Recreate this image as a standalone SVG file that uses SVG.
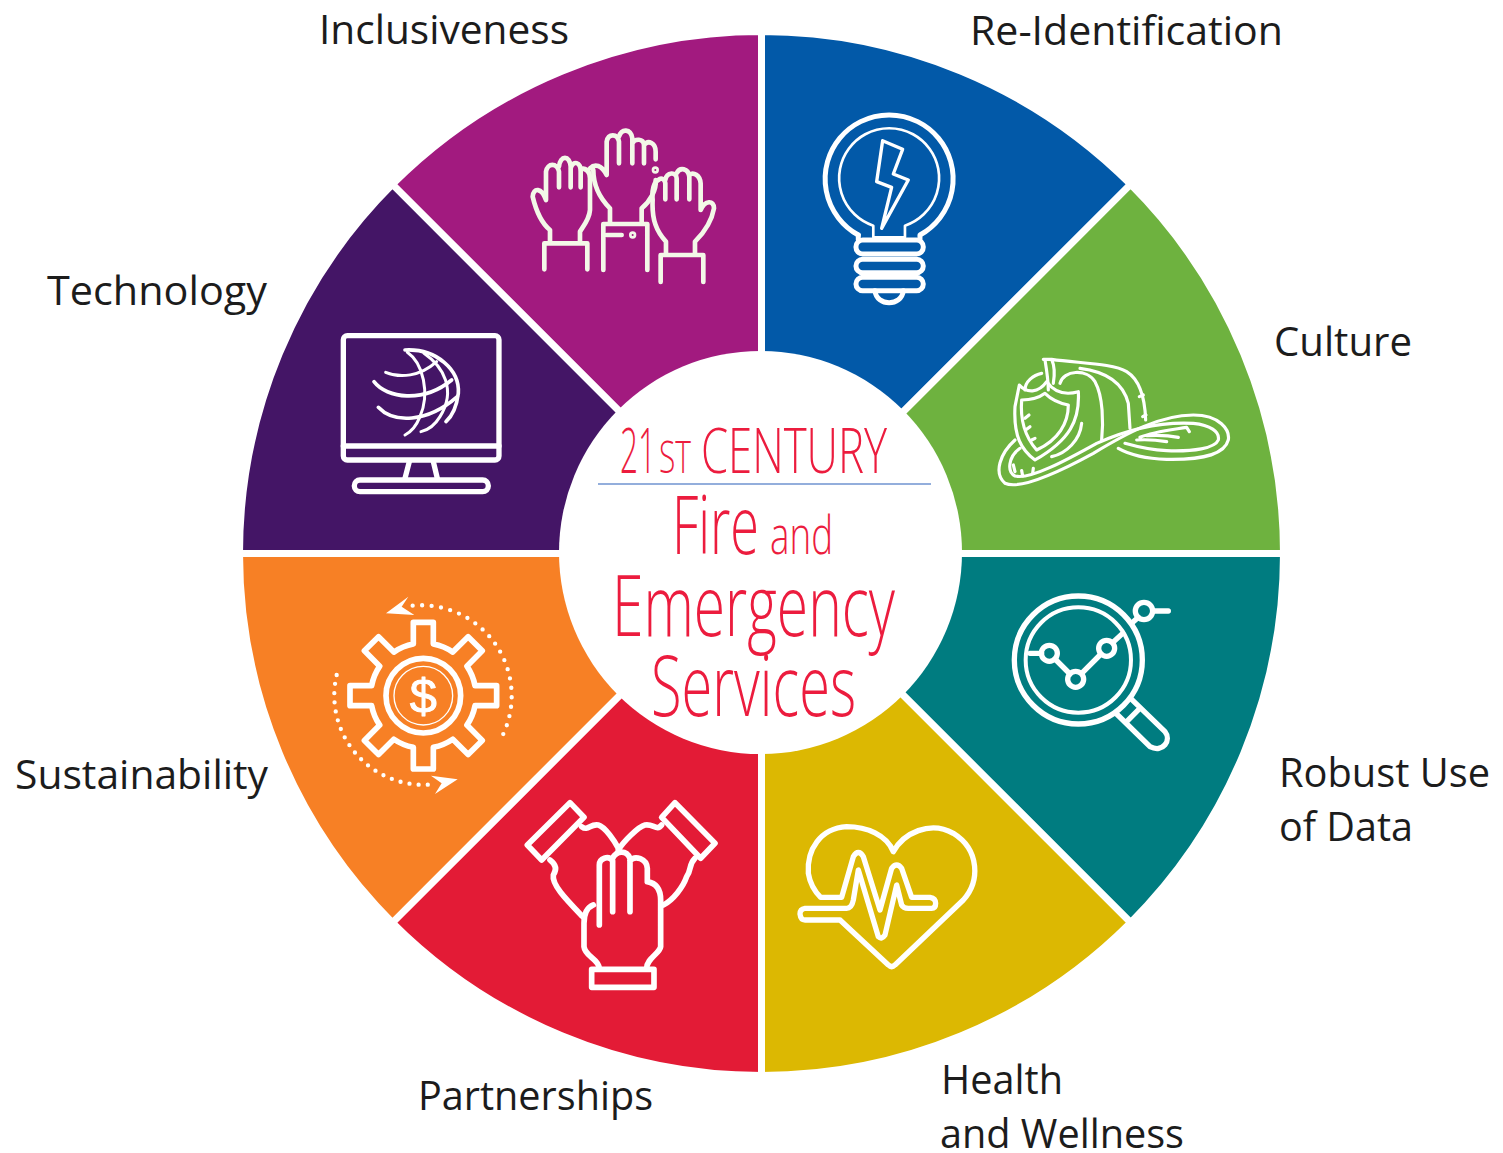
<svg xmlns="http://www.w3.org/2000/svg" width="1503" height="1153" viewBox="0 0 1503 1153">
<style>
.w{stroke:#fff;stroke-width:7}
.i{fill:none;stroke:#fff;stroke-linecap:round;stroke-linejoin:round;stroke-width:16}
.t{stroke-width:8}
.l{font-family:"Open Sans","Noto Sans",sans-serif;font-size:41px;fill:#1c1c1c}
.c{font-family:"Open Sans","Noto Sans",sans-serif;font-weight:300;fill:#EC1C3E}
</style>
<rect width="1503" height="1153" fill="#fff"/>
<g id="connectors"/>

<g id="inclusiveness">
<path class="w" fill="#A21A7F" d="M761.5 553.5L392.4 184.4A522 522 0 0 1 761.5 31.5Z"/>
<g class="i" style="stroke:#F3F8E8;stroke-width:14" transform="translate(510 100) scale(.3333)">
<path d="M103 508V430H232V508M120 425V390C95 370 80 340 68 290C70 262 95 262 108 300V215C112 188 142 188 147 215V262M147 200C150 165 180 165 182 200V262M182 205C190 180 212 185 212 215V262M212 205C225 205 240 210 240 235V330C238 360 215 385 210 395V425"/>
<path d="M240 205C255 190 275 195 290 225V125C295 100 322 100 327 125V190M327 110C335 85 362 85 367 115V190M367 130C375 115 400 115 402 135V190M402 135C415 118 437 130 437 155V178M437 240C440 270 420 305 395 325V365M250 210C250 260 270 295 300 325V368"/>
<path d="M280 510V372H412V510M290 405H335"/>
<circle cx="368" cy="405" r="4"/><circle cx="436" cy="210" r="4"/>
<path d="M452 546V465H580V546M468 460V425C440 395 425 360 428 300C425 270 432 245 445 240C455 230 465 240 466 250V298M466 240C470 215 500 215 500 235V298M500 220C510 200 535 205 538 230V298M538 225C550 215 570 225 572 250V330C585 300 612 300 612 325C605 365 585 395 555 425V460"/>
</g>
</g>

<g id="re-identification">
<path class="w" fill="#0259A8" d="M761.5 553.5V31.5A522 522 0 0 1 1130.6 184.4Z"/>
<g class="i" style="stroke-width:15" transform="translate(510 100) scale(.3333)">
<path d="M1045 405A192 192 0 1 1 1230 405V418"/><path d="M1045 405V418"/>
<path class="t" d="M1090 377A150 150 0 1 1 1185 377V412H1090Z"/>
<path class="t" style="stroke-width:10" d="M1118 122L1178 148L1150 222L1195 240L1115 385L1145 262L1100 245Z"/>
<rect x="1038" y="420" width="202" height="42" rx="20"/>
<rect x="1038" y="478" width="202" height="40" rx="20"/>
<rect x="1038" y="532" width="202" height="40" rx="20"/>
<path d="M1095 572C1100 620 1175 620 1180 572"/>
</g>
</g>

<g id="culture">
<path class="w" fill="#6EB23F" d="M761.5 553.5L1130.6 184.4A522 522 0 0 1 1283.5 553.5Z"/>
<g class="i" transform="translate(980 340) scale(.3333)" style="stroke-width:9.5">
<path d="M105 300C60 340 40 400 75 430C120 450 230 400 340 340C440 280 540 225 640 225C720 225 750 270 745 300C735 340 680 360 560 358C500 356 450 345 415 325"/>
<path d="M120 325C85 350 80 395 105 408C150 420 260 360 350 310C450 265 550 245 640 250C690 255 720 275 715 300C705 325 640 335 560 332C510 330 470 320 435 310"/>
<path d="M118 135C140 160 175 160 200 125C225 160 260 165 295 155C300 240 270 300 165 360C125 330 100 290 105 200Z"/>
<path d="M125 180C150 180 175 175 195 160C215 180 240 190 265 195C265 250 235 300 170 330C135 290 120 240 125 180Z"/>
<path d="M185 100C160 105 135 125 135 150M195 60C200 90 205 120 205 150M220 130C225 100 225 80 215 58L190 58M215 58C300 70 400 70 440 95C480 120 495 180 497 240"/>
<path d="M240 130C250 90 320 85 345 125C370 170 370 250 365 300M300 85C380 95 430 130 445 190L450 265M478 170L490 165M488 230L498 225"/>
<path d="M305 250C300 300 260 340 215 350M135 235L147 225M140 268L150 260M155 300L165 295"/>
<path d="M100 375L105 395M125 392L128 408M160 385L158 400M628 275L620 262C570 270 520 275 480 292M595 292C560 285 530 285 500 287M560 305C530 300 500 298 470 300"/>
</g>
</g>

<g id="robust-use-of-data">
<path class="w" fill="#007C80" d="M761.5 553.5H1283.5A522 522 0 0 1 1130.6 922.6Z"/>
<g class="i" transform="translate(1000 590) scale(.3333)">
<circle cx="235" cy="210" r="192"/>
<circle cx="235" cy="210" r="158" style="stroke-width:12"/>
<circle cx="148" cy="190" r="24"/><circle cx="227" cy="268" r="24"/><circle cx="320" cy="175" r="24"/><circle cx="432" cy="63" r="26"/>
<path d="M90 190H125M165 207L210 252M245 250L303 192M338 158L368 130M395 100L415 82M458 63H505"/>
<path d="M395 328L495 425C515 450 490 490 450 470L350 372M415 360L380 395"/>
</g>
</g>

<g id="health-and-wellness">
<path class="w" fill="#DCB802" d="M761.5 553.5L1130.6 922.6A522 522 0 0 1 761.5 1075.5Z"/>
<g class="i" transform="translate(790 810) scale(.3333)">
<path d="M150 330L295 465Q305 475 315 465L520 270C570 215 570 120 490 70C420 30 340 70 310 125C290 75 230 50 170 50C90 55 50 120 55 190C60 220 75 245 92 262H155L190 140Q205 115 220 140L270 300L305 175Q320 155 335 175L365 262H420Q437 265 437 280Q437 295 425 295H355Q340 295 335 285L320 225L285 375Q275 390 265 380L205 180L190 270Q185 295 170 295H45Q30 297 30 312Q32 330 45 330H150"/>
</g>
</g>

<g id="partnerships">
<path class="w" fill="#E31B36" d="M761.5 553.5V1075.5A522 522 0 0 1 392.4 922.6Z"/>
<g class="i" style="stroke-width:17" transform="translate(510 790) scale(.3333)">
<rect x="245" y="538" width="187" height="54"/>
<path d="M268 405V225C268 205 295 195 308 212V365M308 205C320 180 350 180 360 205V365M360 212C375 195 410 205 412 235V275M412 275C440 280 452 300 452 330V470C450 490 410 505 410 535M250 345C225 355 222 380 222 400V470C225 500 265 505 268 535"/>
<path d="M180 38L222 82L95 210L52 165Z"/>
<path d="M215 110C235 125 240 100 265 105C285 110 315 155 325 175M120 210C140 225 140 240 130 255C125 285 170 330 218 380"/>
<path d="M495 38L615 160L572 205L455 82Z"/>
<path d="M455 105C440 125 430 100 405 105C385 110 340 155 325 180M555 205C535 225 545 240 530 260C520 290 490 330 460 345"/>
</g>
</g>

<g id="sustainability">
<path class="w" fill="#F78025" d="M761.5 553.5L392.4 922.6A522 522 0 0 1 239.5 553.5Z"/>
<g class="i" transform="translate(320 590) scale(.3333)">
<g transform="translate(310 317)">
<path style="stroke-width:17" d="M-30 -155V-220H30V-155A155 155 0 0 1 88.4 -130.8L134.4 -176.8L176.8 -134.4L130.8 -88.4A155 155 0 0 1 155 -30H220V30H155A155 155 0 0 1 130.8 88.4L176.8 134.4L134.4 176.8L88.4 130.8A155 155 0 0 1 30 155V220H-30V155A155 155 0 0 1 -88.4 130.8L-134.4 176.8L-176.8 134.4L-130.8 88.4A155 155 0 0 1 -155 30H-220V-30H-155A155 155 0 0 1 -130.8 -88.4L-176.8 -134.4L-134.4 -176.8L-88.4 -130.8A155 155 0 0 1 -30 -155Z"/>
<circle r="112" style="stroke-width:17"/>
<circle r="88" style="stroke-width:4"/>
<text y="52" text-anchor="middle" font-family="Liberation Sans,sans-serif" font-size="146" fill="#fff" stroke="#fff" stroke-width="3">$</text>
</g>
<path style="stroke-width:13;stroke-dasharray:0 28.5" d="M278 47A272 272 0 0 1 538 455"/>
<path style="stroke-width:13;stroke-dasharray:0 27.5" d="M50 255A268 268 0 0 0 325 584"/>
<path fill="#fff" stroke="none" d="M198 70L265 20L245 50L283 75Z"/>
<path fill="#fff" stroke="none" d="M413 568L333 557L365 580L345 612Z"/>
</g>
</g>

<g id="technology">
<path class="w" fill="#441566" d="M761.5 553.5H239.5A522 522 0 0 1 392.4 184.4Z"/>
<g class="i" transform="translate(320 320) scale(.3333)">
<rect x="70" y="47" width="467" height="373" rx="12"/>
<path d="M70 378H537M268 425L255 475M340 425L352 475"/>
<rect x="103" y="480" width="402" height="35" rx="17"/>
<path style="stroke-width:11" d="M255 90C350 85 420 150 415 220C410 260 395 290 378 305"/>
<path style="stroke-width:9" d="M197 157C240 175 300 170 350 125"/>
<path style="stroke-width:11" d="M162 185C200 235 310 250 395 180"/>
<path style="stroke-width:11" d="M175 262C220 310 320 310 412 230"/>
<path style="stroke-width:9" d="M262 97C310 130 330 220 300 290C290 315 275 335 255 345"/>
<path style="stroke-width:9" d="M312 100C370 140 410 210 360 290C345 315 325 330 303 335"/>
</g>
</g>

<g id="center">
<circle cx="760.5" cy="552.5" r="201.5" fill="#fff"/>
<text class="c" x="620" y="473" font-size="63" textLength="36" lengthAdjust="spacingAndGlyphs">21</text>
<text class="c" x="659" y="473" font-size="44" textLength="32" lengthAdjust="spacingAndGlyphs">ST</text>
<text class="c" x="701" y="473" font-size="63" textLength="186" lengthAdjust="spacingAndGlyphs">CENTURY</text>
<path d="M598 484H931" stroke="#6F93D0" stroke-width="1.6"/>
<text class="c" x="672" y="554" font-size="82" textLength="87" lengthAdjust="spacingAndGlyphs">Fire</text>
<text class="c" x="770" y="554" font-size="54" textLength="63" lengthAdjust="spacingAndGlyphs">and</text>
<text class="c" x="612" y="636" font-size="84" textLength="283" lengthAdjust="spacingAndGlyphs">Emergency</text>
<text class="c" x="651" y="716" font-size="84" textLength="205" lengthAdjust="spacingAndGlyphs">Services</text>
</g>

<g id="labels">
<text class="l" x="319" y="44" textLength="250" lengthAdjust="spacingAndGlyphs">Inclusiveness</text>
<text class="l" x="970" y="45" textLength="313" lengthAdjust="spacingAndGlyphs">Re-Identification</text>
<text class="l" x="47" y="305" textLength="220" lengthAdjust="spacingAndGlyphs">Technology</text>
<text class="l" x="1274" y="356" textLength="138" lengthAdjust="spacingAndGlyphs">Culture</text>
<text class="l" x="1279" y="787" textLength="211" lengthAdjust="spacingAndGlyphs">Robust Use</text>
<text class="l" x="1279" y="841" textLength="134" lengthAdjust="spacingAndGlyphs">of Data</text>
<text class="l" x="15" y="789" textLength="253" lengthAdjust="spacingAndGlyphs">Sustainability</text>
<text class="l" x="418" y="1110" textLength="235" lengthAdjust="spacingAndGlyphs">Partnerships</text>
<text class="l" x="941" y="1094" textLength="122" lengthAdjust="spacingAndGlyphs">Health</text>
<text class="l" x="940" y="1148" textLength="244" lengthAdjust="spacingAndGlyphs">and Wellness</text>
</g>
</svg>
